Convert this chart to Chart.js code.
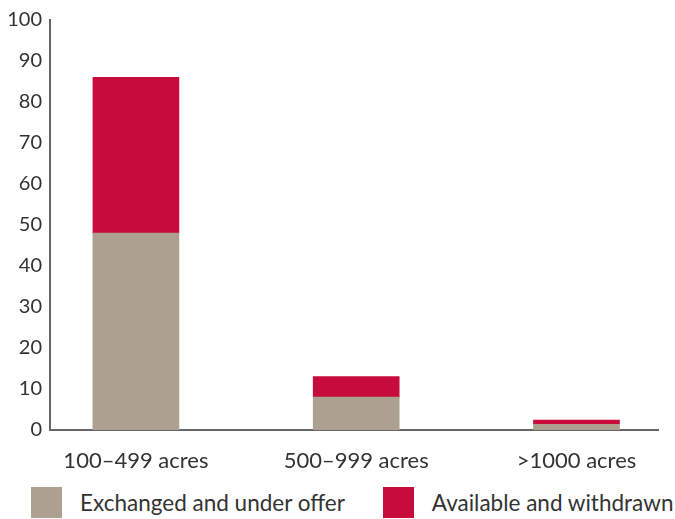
<!DOCTYPE html>
<html>
<head>
<meta charset="utf-8">
<script src="https://cdn.jsdelivr.net/npm/chart.js@4"></script>
<style>
  body { margin: 0; background: #fff; font-family: Lato, sans-serif; }
  #wrap { position: relative; width: 675px; height: 519px; }
  #chartBox { position: absolute; left: 0; top: 0; width: 675px; height: 480px; }
  #legend { position: absolute; left: 31px; top: 487px; display: flex; align-items: center; }
  .item { display: flex; align-items: center; margin-right: 38px; }
  .swatch { width: 31px; height: 31px; margin-right: 18px; }
  .label { font-size: 22.5px; color: #333; white-space: nowrap; }
</style>
</head>
<body>
<div id="wrap">
  <div id="chartBox"><canvas id="acresChart"></canvas></div>
  <div id="legend"></div>
</div>
<script>
// Farm sales by size band
const categories = ['100–499 acres', '500–999 acres', '>1000 acres'];
const exchanged = [48, 8, 1.4];
const available = [38, 5, 1];
const yTicks = [0, 10, 20, 30, 40, 50, 60, 70, 80, 90, 100];

const GREY = '#aca191';
const RED = '#c70c3d';
const TEXT = '#333333';
const AXIS = '#666666';

const points = vals => vals.map((v, i) => ({ x: i, y: v }));

// legend built from the datasets, drawn as html under the canvas
const htmlLegend = {
  id: 'htmlLegend',
  afterUpdate(chart) {
    const box = document.getElementById('legend');
    box.innerHTML = '';
    chart.data.datasets.forEach(ds => {
      const item = document.createElement('div');
      item.className = 'item';
      const sw = document.createElement('span');
      sw.className = 'swatch';
      sw.style.background = ds.backgroundColor;
      const txt = document.createElement('span');
      txt.className = 'label';
      txt.textContent = ds.label;
      item.appendChild(sw);
      item.appendChild(txt);
      box.appendChild(item);
    });
  }
};

const ctx = document.getElementById('acresChart');
new Chart(ctx, {
  type: 'bar',
  data: {
    datasets: [
      {
        label: 'Exchanged and under offer',
        data: points(exchanged),
        backgroundColor: GREY,
        barThickness: 86
      },
      {
        label: 'Available and withdrawn',
        data: points(available),
        backgroundColor: RED,
        barThickness: 86
      }
    ]
  },
  options: {
    responsive: true,
    maintainAspectRatio: false,
    animation: false,
    layout: { padding: { top: 10, right: 17, left: 0, bottom: 0 } },
    scales: {
      x: {
        type: 'linear',
        stacked: true,
        offset: false,
        min: -0.39,
        max: 2.37,
        grid: { display: false, drawTicks: false },
        border: { display: true, color: AXIS, width: 2 },
        afterBuildTicks: scale => {
          scale.ticks = categories.map((c, i) => ({ value: i }));
        },
        afterFit: scale => { scale.height = 50; },
        ticks: {
          autoSkip: false,
          maxRotation: 0,
          padding: 18,
          color: TEXT,
          font: { family: 'Lato', size: 22 },
          callback: v => categories[v] ?? ''
        }
      },
      y: {
        stacked: true,
        min: 0,
        max: 100,
        afterBuildTicks: scale => {
          scale.ticks = yTicks.map(v => ({ value: v }));
        },
        afterFit: scale => { scale.width = 50; },
        grid: { display: false, drawTicks: false },
        border: { display: true, color: AXIS, width: 2 },
        ticks: {
          padding: 8,
          color: TEXT,
          font: { family: 'Lato', size: 20 }
        }
      }
    },
    plugins: {
      tooltip: { enabled: false },
      legend: { display: false }
    }
  },
  plugins: [htmlLegend]
});
</script>
</body>
</html>
